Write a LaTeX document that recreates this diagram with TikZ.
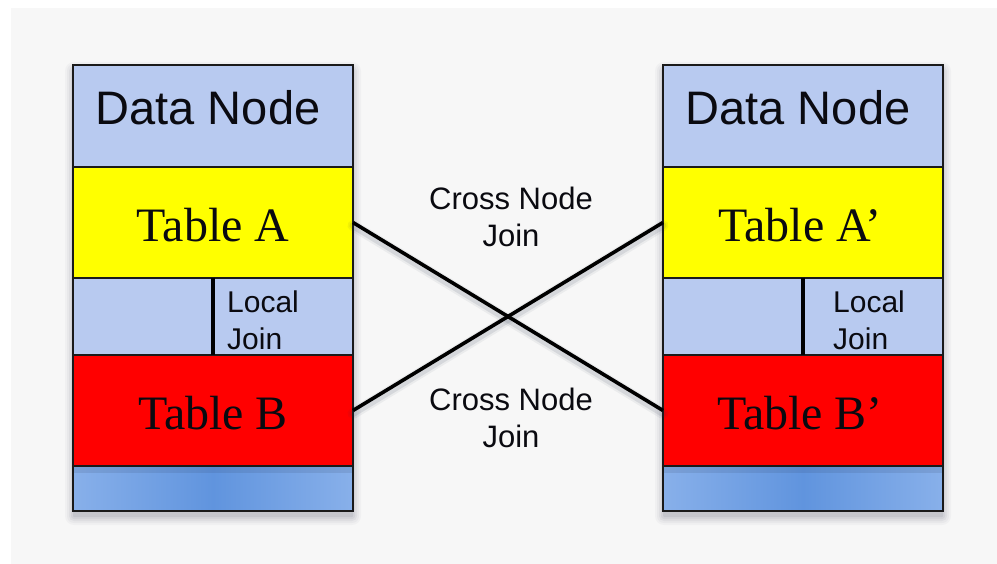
\documentclass[tikz,border=0pt]{standalone}
\usepackage{fontspec}
\setmainfont{Liberation Serif}
\newfontfamily\sansfam{Liberation Sans}
\usetikzlibrary{calc}
\definecolor{panelgray}{HTML}{F7F7F7}
\definecolor{nodeblue}{HTML}{B8CAF0}
\definecolor{tyellow}{HTML}{FFFF00}
\definecolor{tred}{HTML}{FF0000}
\definecolor{baseedge}{HTML}{88B0EA}
\definecolor{basemid}{HTML}{6094DE}
\definecolor{framec}{HTML}{1A1A1A}
\definecolor{shadowc}{HTML}{24304A}
\definecolor{inkc}{HTML}{0A0A10}

\begin{document}
\begin{tikzpicture}[x=1pt,y=-1pt,
  sect/.style={draw=framec, line width=1.8pt, minimum width=280pt,
    inner sep=0pt, outer sep=0pt, anchor=north west},
  headsect/.style={sect, fill=nodeblue, minimum height=102pt},
  tabA/.style={sect, fill=tyellow, minimum height=111pt},
  gapsect/.style={sect, fill=nodeblue, minimum height=77pt},
  tabB/.style={sect, fill=tred, minimum height=111pt},
  basesect/.style={sect, minimum height=45pt,
    left color=baseedge, right color=baseedge, middle color=basemid},
  headtext/.style={font=\sansfam\fontsize{47}{56}\selectfont, text=inkc, anchor=base, inner sep=0pt},
  tabtext/.style={font=\fontsize{48}{56}\selectfont, text=inkc, anchor=base, inner sep=0pt},
  jointext/.style={font=\sansfam\fontsize{31}{37}\selectfont, text=inkc, anchor=base, inner sep=0pt},
  localtext/.style={font=\sansfam\fontsize{30}{36}\selectfont, text=inkc, anchor=base west, inner sep=0pt},
  divider/.style={draw=black, line width=3.2pt},
  joinline/.style={draw=black, line width=3.6pt},
  lineshade/.style={draw=shadowc, line cap=round},
]
% page and panel
\useasboundingbox (0,0) rectangle (997,564);
\fill[white] (0,0) rectangle (997,564);
\fill[panelgray] (11,8) rectangle (997,564);

% soft drop shadows under both data node columns
\foreach \xl in {73,663}{
  \foreach \s/\o in {9/0.03,7/0.04,5/0.05,3/0.06,1/0.08}{
    \fill[shadowc, opacity=\o, rounded corners=\s pt]
      (\xl-\s+1, 65-\s+6) rectangle (\xl+280+\s-1, 511+\s+5);
  }
}

% left data node column
\node[headsect] (dnL) at (73,65) {};
\node[tabA]     (tA)  at (73,167) {};
\node[gapsect]  (gL)  at (73,278) {};
\node[tabB]     (tB)  at (73,355) {};
\node[basesect] (bL)  at (73,466) {};
\fill[shadowc, opacity=0.12] (bL.north west) rectangle ($(bL.north east)+(0,7)$);
\draw[draw=framec, line width=1.8pt] (bL.north west) rectangle (bL.south east);
\draw[divider] (gL.north) -- (gL.south);

% right data node column
\node[headsect] (dnR) at (663,65) {};
\node[tabA]     (tAp) at (663,167) {};
\node[gapsect]  (gR)  at (663,278) {};
\node[tabB]     (tBp) at (663,355) {};
\node[basesect] (bR)  at (663,466) {};
\fill[shadowc, opacity=0.12] (bR.north west) rectangle ($(bR.north east)+(0,7)$);
\draw[draw=framec, line width=1.8pt] (bR.north west) rectangle (bR.south east);
\draw[divider] (gR.north) -- (gR.south);

% labels
\node[headtext] (hL) at (208,125) {Data Node};
\node[headtext] (hR) at (798,125) {Data Node};
\node[tabtext] (lA)  at (213,242) {Table A};
\node[tabtext] (lB)  at (213,429) {Table B};
\node[tabtext] (lAp) at (800,242) {Table A’};
\node[tabtext] (lBp) at (800,429) {Table B’};
\node[localtext] (loc1) at (227,313) {Local};
\node[localtext] (loc2) at (227,349) {Join};
\node[localtext] (loc3) at (833,313) {Local};
\node[localtext] (loc4) at (833,349) {Join};

% cross node joins
\foreach \w/\o in {11/0.06,7/0.10}{
  \draw[lineshade, line width=\w pt, opacity=\o] ($(tA.east)+(0,3)$) -- ($(tBp.west)+(0,3)$);
  \draw[lineshade, line width=\w pt, opacity=\o] ($(tB.east)+(0,3)$) -- ($(tAp.west)+(0,3)$);
}
\draw[joinline] (tA.east) -- (tBp.west);
\draw[joinline] (tB.east) -- (tAp.west);

\node[jointext] (cj1a) at (511,210) {Cross Node};
\node[jointext] (cj1b) at (511,247) {Join};
\node[jointext] (cj2a) at (511,410) {Cross Node};
\node[jointext] (cj2b) at (511,447) {Join};
\end{tikzpicture}
\end{document}
